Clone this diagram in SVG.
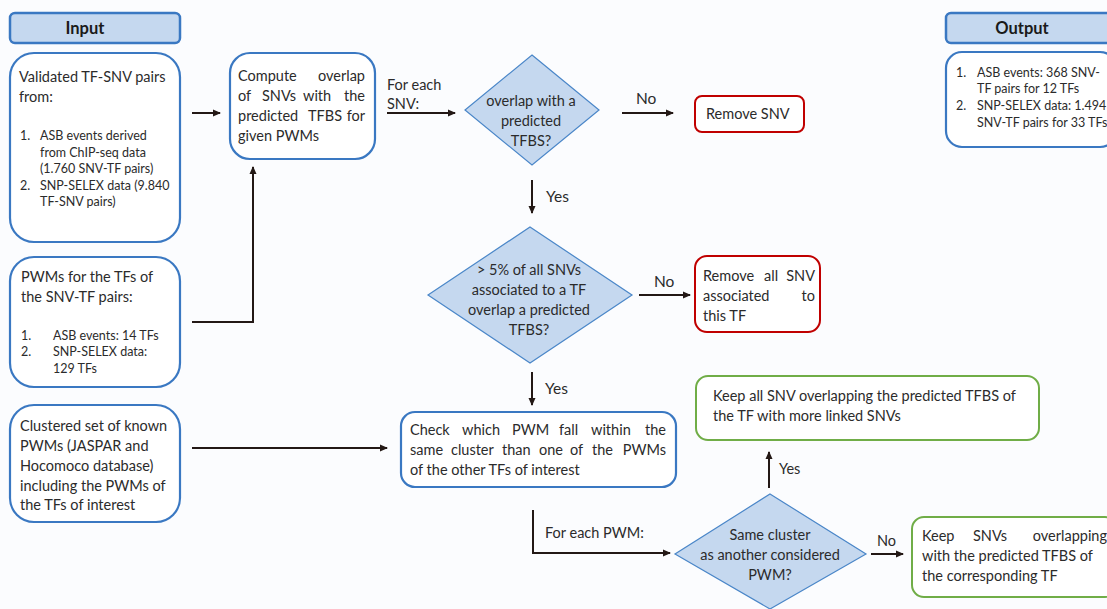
<svg xmlns="http://www.w3.org/2000/svg" width="1107" height="609" viewBox="0 0 1107 609">
<defs>
<marker id="ah" markerWidth="8" markerHeight="8" refX="7" refY="4" orient="auto" markerUnits="userSpaceOnUse"><path d="M0,0.5 L8,4 L0,7.5 Z" fill="#231815"/></marker>
<style>
text{font-family:"Lato","Liberation Sans",sans-serif;fill:#2b2b2b;font-size:14.5px}
.s{font-size:12.5px}
.l{font-size:15.5px}
.h{font-weight:bold;font-size:16.5px;text-anchor:middle;fill:#1a1a1a}
.hdr{fill:#c5d8ef;stroke:#3a78c2;stroke-width:2.5}
.blue{fill:#fff;stroke:#3a78c2;stroke-width:2.2}
.red{fill:#fff;stroke:#c00000;stroke-width:2}
.green{fill:#fff;stroke:#70ad47;stroke-width:2}
.dia{fill:#c5d8ef;stroke:#4a86c8;stroke-width:1.2}
.c{fill:none;stroke:#231815;stroke-width:2}
.m{text-anchor:middle}
.e{text-anchor:end}
</style>
</defs>
<rect width="1107" height="609" fill="#fbfcfe"/>
<g id="input-header"><rect class="hdr" x="10" y="13" width="170" height="30" rx="5"/><text class="h" x="85" y="34">Input</text></g>
<g id="output-header"><rect class="hdr" x="946" y="13" width="170" height="30" rx="5"/><text class="h" x="1022" y="34">Output</text></g>
<g id="validated"><rect class="blue" x="10" y="53" width="170" height="189" rx="24"/>
<text x="19" y="82">Validated TF-SNV pairs</text><text x="19" y="102">from:</text>
<text class="s" x="20" y="140">1.</text><text class="s" x="40" y="140">ASB events derived</text>
<text class="s" x="40" y="157">from ChIP-seq data</text><text class="s" x="40" y="173">(1.760 SNV-TF pairs)</text>
<text class="s" x="20" y="190">2.</text><text class="s" x="40" y="190">SNP-SELEX data (9.840</text><text class="s" x="40" y="206">TF-SNV pairs)</text></g>
<g id="pwms"><rect class="blue" x="10" y="257" width="170" height="130" rx="24"/>
<text x="21" y="282">PWMs for the TFs of</text><text x="21" y="302">the SNV-TF pairs:</text>
<text class="s" x="21" y="340">1.</text><text class="s" x="53" y="340">ASB events: 14 TFs</text>
<text class="s" x="21" y="356">2.</text><text class="s" x="53" y="356">SNP-SELEX data:</text><text class="s" x="53" y="373">129 TFs</text></g>
<g id="clustered"><rect class="blue" x="10" y="405" width="170" height="117" rx="24"/>
<text x="20" y="431">Clustered set of known</text><text x="20" y="451">PWMs (JASPAR and</text><text x="20" y="471">Hocomoco database)</text><text x="20" y="491">including the PWMs of</text><text x="20" y="510">the TFs of interest</text></g>
<g id="compute"><rect class="blue" x="230" y="53" width="145" height="106" rx="20"/>
<text x="238" y="81">Compute</text><text class="e" x="365" y="81">overlap</text>
<text x="238" y="101">of</text><text x="262" y="101">SNVs</text><text x="303" y="101">with</text><text class="e" x="365" y="101">the</text>
<text x="238" y="121">predicted</text><text x="308" y="121">TFBS</text><text class="e" x="365" y="121">for</text>
<text x="238" y="141">given PWMs</text></g>
<g id="d1"><polygon class="dia" points="532,55 599,110 532,165 465,110"/>
<text class="m" x="531" y="106">overlap with a</text><text class="m" x="531" y="126">predicted</text><text class="m" x="531" y="146">TFBS?</text></g>
<g id="remove-snv"><rect class="red" x="695" y="96" width="109" height="36" rx="7"/><text x="706" y="119">Remove SNV</text></g>
<g id="d2"><polygon class="dia" points="530,227 632,295 530,363 428,295"/>
<text class="m" x="529" y="275">&gt; 5% of all SNVs</text><text class="m" x="529" y="295">associated to a TF</text><text class="m" x="529" y="315">overlap a predicted</text><text class="m" x="529" y="335">TFBS?</text></g>
<g id="remove-all"><rect class="red" x="695" y="256" width="125" height="76" rx="12"/>
<text x="703" y="281">Remove</text><text x="764" y="281">all</text><text class="e" x="815" y="281">SNV</text>
<text x="703" y="301">associated</text><text class="e" x="815" y="301">to</text><text x="703" y="321">this TF</text></g>
<g id="check"><rect class="blue" x="401" y="412" width="275" height="75" rx="14"/>
<text x="410" y="435">Check</text><text x="462" y="435">which</text><text x="512" y="435">PWM</text><text x="559" y="435">fall</text><text x="591" y="435">within</text><text class="e" x="666" y="435">the</text>
<text x="410" y="455">same</text><text x="451" y="455">cluster</text><text x="502" y="455">than</text><text x="539" y="455">one</text><text x="570" y="455">of</text><text x="592" y="455">the</text><text class="e" x="666" y="455">PWMs</text>
<text x="410" y="475">of the other TFs of interest</text></g>
<g id="keep-all"><rect class="green" x="696" y="376" width="343" height="64" rx="12"/>
<text x="713" y="401">Keep all SNV overlapping  the predicted TFBS of</text><text x="713" y="421">the TF with more linked SNVs</text></g>
<g id="d3"><polygon class="dia" points="770,494 866,554 770,609 675,554"/>
<text class="m" x="770" y="540">Same cluster</text><text class="m" x="770" y="560">as another considered</text><text class="m" x="770" y="580">PWM?</text></g>
<g id="keep-snvs"><rect class="green" x="912" y="517" width="205" height="80" rx="12"/>
<text x="922" y="541">Keep</text><text x="973" y="541">SNVs</text><text class="e" x="1107" y="541">overlapping</text>
<text x="922" y="561">with the predicted TFBS of</text><text x="922" y="581">the corresponding TF</text></g>
<g id="output"><rect class="blue" x="946" y="52" width="170" height="95" rx="16"/>
<text class="s" x="956" y="77">1.</text><text class="s" x="977" y="77">ASB events: 368 SNV-</text><text class="s" x="977" y="93">TF pairs for 12 TFs</text>
<text class="s" x="956" y="110">2.</text><text class="s" x="977" y="110">SNP-SELEX data: 1.494</text><text class="s" x="977" y="127">SNV-TF pairs for 33 TFs</text></g>
<g id="connectors">
<path class="c" d="M192,113 H220" marker-end="url(#ah)"/>
<path class="c" d="M192,322 H253 V167" marker-end="url(#ah)"/>
<path class="c" d="M192,448 H387" marker-end="url(#ah)"/>
<path class="c" d="M387,113 H455" marker-end="url(#ah)"/>
<path class="c" d="M622,113 H673" marker-end="url(#ah)"/>
<path class="c" d="M532,180 V213" marker-end="url(#ah)"/>
<path class="c" d="M639,295 H690" marker-end="url(#ah)"/>
<path class="c" d="M532,372 V405" marker-end="url(#ah)"/>
<path class="c" d="M533,510 V553 H670" marker-end="url(#ah)"/>
<path class="c" d="M769,488 V452" marker-end="url(#ah)"/>
<path class="c" d="M871,554 H903" marker-end="url(#ah)"/>
<text x="387" y="90">For each</text><text x="387" y="109">SNV:</text>
<text class="l" x="636" y="104">No</text><text class="l" x="546" y="202">Yes</text>
<text class="l" x="654" y="287">No</text><text class="l" x="545" y="394">Yes</text>
<text x="545" y="538">For each PWM:</text>
<text x="779" y="474">Yes</text><text x="877" y="546">No</text>
</g>
</svg>
